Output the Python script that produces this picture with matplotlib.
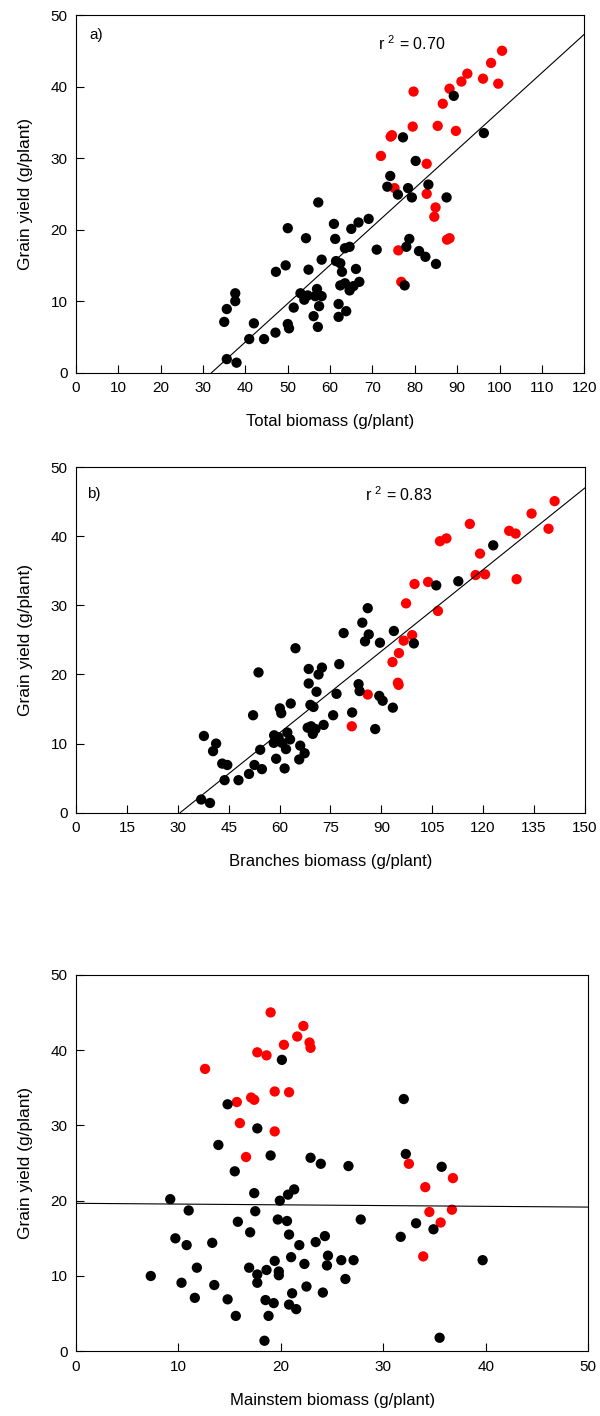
import numpy as np
import matplotlib
matplotlib.use("Agg")
import matplotlib.pyplot as plt

plt.rcParams['font.family'] = ['Liberation Sans', 'DejaVu Sans']
plt.rcParams['mathtext.default'] = 'regular'

# ---- panel a: total biomass ----
a_black_x = [57.2, 50.0, 54.3, 60.9, 61.2, 58.0, 49.5, 47.2, 54.9, 61.4, 62.8, 62.4, 62.0, 62.0,
             37.6, 37.6, 35.6, 35.0, 42.0, 40.9, 44.4, 47.1, 50.0, 50.3, 51.4, 53.0, 53.9, 54.7,
             56.9, 56.5, 58.0, 57.4, 56.1, 57.1, 35.6, 37.9,
             89.2, 96.3, 77.2, 80.2, 74.2, 73.5, 76.0, 78.4, 79.3, 83.2, 87.5, 69.1, 66.7, 65.0,
             64.6, 63.5, 71.0, 78.7, 78.0, 81.0, 82.5, 85.0, 77.6, 62.4, 66.1, 63.5, 64.6, 65.5,
             66.9, 63.8]
a_black_y = [23.8, 20.2, 18.8, 20.8, 18.7, 15.8, 15.0, 14.1, 14.4, 15.6, 14.1, 12.2, 9.6, 7.8,
             11.1, 10.0, 8.9, 7.1, 6.9, 4.7, 4.7, 5.6, 6.8, 6.2, 9.1, 11.1, 10.2, 10.8,
             11.7, 10.7, 10.7, 9.3, 7.9, 6.4, 1.9, 1.4,
             38.7, 33.5, 32.9, 29.6, 27.5, 26.0, 24.9, 25.8, 24.5, 26.3, 24.5, 21.5, 21.0, 20.1,
             17.6, 17.4, 17.2, 18.7, 17.6, 17.0, 16.2, 15.2, 12.2, 15.3, 14.5, 12.5, 11.5, 12.1,
             12.7, 8.6]
a_red_x = [100.6, 98.0, 92.4, 91.0, 96.1, 99.7, 88.2, 79.7, 86.6, 79.5, 85.4, 89.7, 74.6, 74.3,
           72.0, 82.8, 75.2, 82.8, 84.9, 84.6, 88.2, 87.6, 76.1, 76.8]
a_red_y = [45.0, 43.3, 41.8, 40.7, 41.1, 40.4, 39.7, 39.3, 37.6, 34.4, 34.5, 33.8, 33.2, 33.0,
           30.3, 29.2, 25.8, 25.0, 23.1, 21.8, 18.8, 18.6, 17.1, 12.7]
a_fit = (0.5375, -17.2)   # slope, intercept

# ---- panel b: branches biomass ----
b_black_x = [78.9, 64.7, 53.8, 68.6, 72.5, 71.5, 77.6, 68.6, 70.9, 76.8, 63.3, 60.1, 60.5, 69.1,
             70.0, 52.2, 75.8, 73.0, 68.3, 69.3, 70.6, 69.8, 58.4, 59.7, 62.3, 63.1, 58.3, 60.7,
             66.1, 61.9, 54.3, 67.4, 65.8, 59.0, 61.5, 52.6, 54.8, 51.0, 47.9, 43.8, 37.7, 41.3,
             40.4, 43.1, 44.6, 36.9, 39.5,
             123.0, 112.7, 106.2, 86.0, 84.4, 86.3, 85.2, 89.6, 93.7, 99.6, 83.3, 83.6, 89.4,
             90.4, 93.4, 81.4, 88.2]
b_black_y = [26.0, 23.8, 20.3, 20.8, 21.0, 20.0, 21.5, 18.7, 17.5, 17.2, 15.8, 15.1, 14.4, 15.6,
             15.3, 14.1, 14.1, 12.7, 12.3, 12.5, 12.1, 11.4, 11.2, 10.9, 11.6, 10.6, 10.1, 10.1,
             9.7, 9.2, 9.1, 8.6, 7.7, 7.8, 6.4, 6.9, 6.3, 5.6, 4.7, 4.7, 11.1, 10.0,
             8.9, 7.1, 6.9, 1.9, 1.4,
             38.7, 33.5, 32.9, 29.6, 27.5, 25.8, 24.8, 24.6, 26.3, 24.5, 18.6, 17.6, 16.9,
             16.2, 15.2, 14.5, 12.1]
b_red_x = [141.1, 134.3, 116.1, 127.7, 129.6, 139.3, 109.2, 107.3, 119.1, 117.8, 120.6, 129.9,
           103.8, 99.8, 97.3, 106.7, 99.1, 96.6, 95.2, 93.3, 94.9, 95.1, 86.0, 81.3]
b_red_y = [45.1, 43.3, 41.8, 40.8, 40.4, 41.1, 39.7, 39.3, 37.5, 34.4, 34.5, 33.8,
           33.4, 33.1, 30.3, 29.2, 25.7, 24.9, 23.1, 21.8, 18.8, 18.5, 17.1, 12.5]
b_fit = (0.394, -12.1)

# ---- panel c: mainstem biomass ----
c_black_x = [20.1, 14.8, 17.7, 13.9, 19.0, 22.9, 23.9, 15.5, 17.4, 21.3, 20.7, 19.9, 9.2, 11.0,
             17.5, 15.8, 19.7, 20.6, 17.0, 20.8, 9.7, 10.8, 13.3, 21.8, 23.4, 24.3, 24.6, 21.0,
             19.4, 22.3, 24.5, 25.9, 11.8, 16.9, 18.6, 17.7, 19.8, 19.8, 7.3, 10.3, 13.5, 17.7,
             26.3, 22.5, 21.1, 24.1, 11.6, 14.8, 18.5, 19.3, 20.8, 21.5, 15.6, 18.8, 18.4,
             32.0, 32.2, 26.6, 35.7, 27.8, 33.2, 34.9, 31.7, 27.1, 39.7, 35.5]
c_black_y = [38.7, 32.8, 29.6, 27.4, 26.0, 25.7, 24.9, 23.9, 21.0, 21.5, 20.8, 20.0, 20.2, 18.7,
             18.6, 17.2, 17.5, 17.3, 15.8, 15.5, 15.0, 14.1, 14.4, 14.1, 14.5, 15.3, 12.7, 12.5,
             12.0, 11.6, 11.4, 12.1, 11.1, 11.1, 10.8, 10.2, 10.6, 10.1, 10.0, 9.1, 8.8, 9.1,
             9.6, 8.6, 7.7, 7.8, 7.1, 6.9, 6.8, 6.4, 6.2, 5.6, 4.7, 4.7, 1.4,
             33.5, 26.2, 24.6, 24.5, 17.5, 17.0, 16.2, 15.2, 12.1, 12.1, 1.8]
c_red_x = [19.0, 22.2, 21.6, 20.3, 22.8, 22.9, 17.7, 18.6, 12.6, 19.4, 20.8, 17.1, 17.4, 15.7,
           16.0, 19.4, 16.6, 32.5, 36.8, 34.1, 34.5, 36.7, 35.6, 33.9]
c_red_y = [45.0, 43.2, 41.8, 40.7, 41.0, 40.3, 39.7, 39.3, 37.5, 34.5, 34.4, 33.7, 33.4, 33.1,
           30.3, 29.2, 25.8, 24.9, 23.0, 21.8, 18.5, 18.8, 17.1, 12.6]
c_fit = (-0.01, 19.65)

panels = [
    dict(pos=[0.1267, 0.7368, 0.847, 0.2526], bx=a_black_x, by=a_black_y, rx=a_red_x, ry=a_red_y,
         fit=a_fit, xmax=120, xstep=10, xlabel="Total biomass (g/plant)", tag="a)", tagy=47.2,
         r2="0.70", r2x=71.3),
    dict(pos=[0.1267, 0.4261, 0.848, 0.2439], bx=b_black_x, by=b_black_y, rx=b_red_x, ry=b_red_y,
         fit=b_fit, xmax=150, xstep=15, xlabel="Branches biomass (g/plant)", tag="b)", tagy=46.2,
         r2="0.83", r2x=85.3),
    dict(pos=[0.1267, 0.0457, 0.8535, 0.2659], bx=c_black_x, by=c_black_y, rx=c_red_x, ry=c_red_y,
         fit=c_fit, xmax=50, xstep=10, xlabel="Mainstem biomass (g/plant)", tag=None, tagy=None,
         r2=None, r2x=None),
]

fig = plt.figure(figsize=(6, 14.16), dpi=100)

for p in panels:
    ax = fig.add_axes(p["pos"])
    ax.scatter(p["rx"], p["ry"], s=55, color="#ff0000", edgecolors="none", zorder=2)
    ax.scatter(p["bx"], p["by"], s=55, color="black", edgecolors="none", zorder=3)

    slope, icpt = p["fit"]
    x0 = max(0, -icpt / slope) if slope > 0 else 0
    xs = np.array([x0, p["xmax"]])
    ax.plot(xs, slope * xs + icpt, color="black", lw=0.8, zorder=4)

    ax.set_xlim(0, p["xmax"])
    ax.set_ylim(0, 50)
    ax.set_xticks(np.arange(0, p["xmax"] + 1, p["xstep"]))
    ax.set_yticks(np.arange(0, 51, 10))
    ax.tick_params(direction="in", length=6, width=0.8, labelsize=11, top=False, right=False)
    ax.tick_params(axis="x", pad=6)
    ax.tick_params(axis="y", pad=6)
    for sp in ax.spines.values():
        sp.set_linewidth(0.8)
    ax.set_xlabel(p["xlabel"], fontsize=12, labelpad=14)
    ax.set_ylabel("Grain yield (g/plant)", fontsize=12.5, labelpad=13)

    if p["tag"]:
        ax.text(3.2, p["tagy"], p["tag"], fontsize=11, va="center")
    if p["r2"]:
        ax.text(p["r2x"], 46.0, "r $^{2}$ = " + p["r2"], fontsize=11.5, va="center")

fig.savefig("out.png", dpi=100)
